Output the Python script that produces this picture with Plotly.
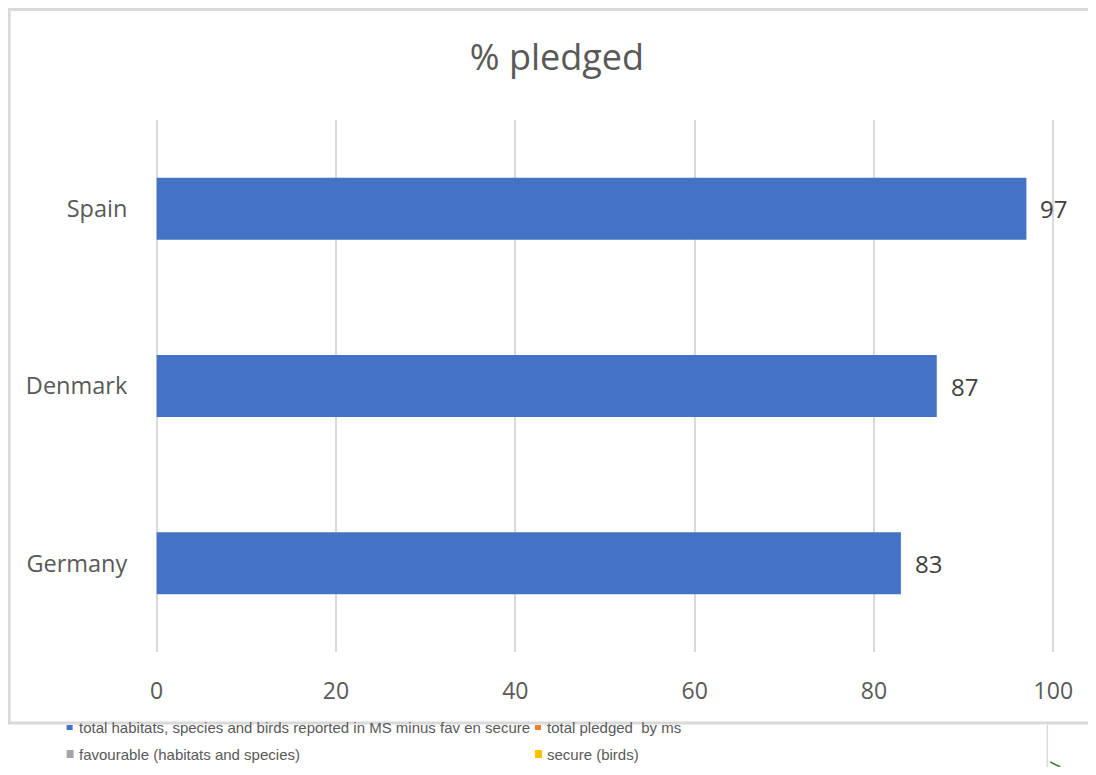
import plotly.graph_objects as go

countries = ["Germany", "Denmark", "Spain"]
pledged = [83, 87, 97]
x_ticks = [0, 20, 40, 60, 80, 100]
x_range = [-0.3, 100.3]
legend_row1 = ["total habitats, species and birds reported in MS minus fav en secure", "total pledged  by ms"]
legend_row1_colors = ["#4472C4", "#ED7D31"]
legend_row2 = ["favourable (habitats and species)", "secure (birds)"]
legend_row2_colors = ["#A5A5A5", "#FFC000"]

OFF = 8  # browser body margin
W, H = 1096 - 2 * OFF, 775 - 2 * OFF
# target screen positions of x=0 and x=100, plot top and bottom
X0S, X100S, TOPS, BOTS = 157, 1053, 120, 652
scale = (X100S - X0S) / 100.0
L = (X0S - OFF) + x_range[0] * scale
Rp = (X0S - OFF) + x_range[1] * scale
R = W - Rp
T = TOPS - OFF
B = H - (BOTS - OFF)
pw, ph = Rp - L, H - T - B


def px(xs):
    return (xs - OFF - L) / pw


def py(ys):
    return (H - B - (ys - OFF)) / ph


FONT = "Open Sans, Noto Sans, sans-serif"
GREY = "#595959"

fig = go.Figure()
fig.add_trace(go.Bar(
    y=countries, x=pledged, orientation="h",
    marker=dict(color="#4472C4", line=dict(width=0)),
    width=0.35, hoverinfo="x+y",
))

annotations = []
for c, v in zip(countries, pledged):
    annotations.append(dict(x=v, y=c, xref="x", yref="y", text=str(v),
                            showarrow=False, xanchor="left", xshift=12,
                            font=dict(family=FONT, size=24, color="#404040")))

narrow = "Liberation Sans Narrow, Arial Narrow, sans-serif"
xs_sq = [67, 535]
for i, (t, c) in enumerate(zip(legend_row1, legend_row1_colors)):
    annotations.append(dict(x=px(xs_sq[i] + 10), y=py(727), xref="paper", yref="paper",
                            text=t, showarrow=False, xanchor="left", yanchor="middle",
                            font=dict(family=narrow, size=15, color=GREY)))
for i, (t, c) in enumerate(zip(legend_row2, legend_row2_colors)):
    annotations.append(dict(x=px(xs_sq[i] + 10), y=py(754), xref="paper", yref="paper",
                            text=t, showarrow=False, xanchor="left", yanchor="middle",
                            font=dict(family=narrow, size=15, color=GREY)))

BORDER = dict(color="#D9D9D9", width=3)
shapes = [
    # chart border (left, top, bottom; right side lies outside the view)
    dict(type="line", xref="paper", yref="paper", x0=px(9.5), x1=px(9.5), y0=py(723), y1=py(8),
         line=BORDER, layer="below"),
    dict(type="line", xref="paper", yref="paper", x0=px(8), x1=px(1130), y0=py(9.5), y1=py(9.5),
         line=BORDER, layer="below"),
    dict(type="line", xref="paper", yref="paper", x0=px(8), x1=px(1130), y0=py(723), y1=py(723),
         line=BORDER, layer="below"),
    # divider line of the lower chart
    dict(type="line", xref="paper", yref="paper",
         x0=px(1047), x1=px(1047), y0=py(725), y1=py(775),
         line=dict(color="#D9D9D9", width=1.5)),
    dict(type="line", xref="paper", yref="paper",
         x0=px(1050), x1=px(1060), y0=py(762), y1=py(767),
         line=dict(color="#3A7D2C", width=1.5)),
]
for i, c in enumerate(legend_row1_colors):
    shapes.append(dict(type="rect", xref="paper", yref="paper",
                       x0=px(xs_sq[i]), x1=px(xs_sq[i] + 6), y0=py(730), y1=py(725),
                       fillcolor=c, line=dict(width=0)))
for i, c in enumerate(legend_row2_colors):
    shapes.append(dict(type="rect", xref="paper", yref="paper",
                       x0=px(xs_sq[i]), x1=px(xs_sq[i] + 7), y0=py(758), y1=py(750),
                       fillcolor=c, line=dict(width=0)))

fig.update_layout(
    width=W, height=H,
    margin=dict(l=L, r=R, t=T, b=B, pad=0, autoexpand=False),
    paper_bgcolor="white", plot_bgcolor="white",
    showlegend=False,
    title=dict(text="% pledged", x=(557 - OFF) / W, xanchor="center",
               y=1 - (57 - OFF) / H, yanchor="middle",
               font=dict(family=FONT, size=36, color=GREY)),
    xaxis=dict(range=x_range, tickvals=x_ticks, showgrid=True, gridcolor="#D9D9D9", gridwidth=2,
               zeroline=False, showline=False, ticks="outside", ticklen=18, tickcolor="rgba(0,0,0,0)",
               tickfont=dict(family=FONT, size=23, color=GREY), fixedrange=True),
    yaxis=dict(categoryorder="array", categoryarray=countries, showgrid=False, zeroline=False,
               showline=False, ticks="outside", ticklen=21, tickcolor="rgba(0,0,0,0)",
               tickfont=dict(family=FONT, size=23.5, color=GREY), fixedrange=True),
    annotations=annotations, shapes=shapes,
)
fig.write_html("out.html")
